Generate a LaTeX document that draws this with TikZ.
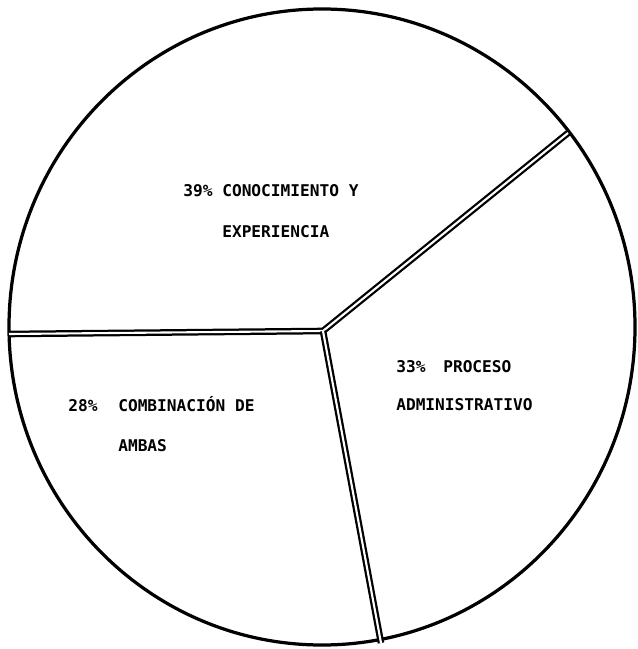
\documentclass[tikz,border=0pt]{standalone}
\usepackage{fontspec}
\newfontfamily\piefont{DejaVu Sans Mono}[Scale=1.0]
\usepackage{tikz}
\usetikzlibrary{calc}

\begin{document}
\begin{tikzpicture}[
    x=0.025cm, y=-0.025cm,
    % Define styles for consistency
    rim/.style={line width=2.3pt, black},
    spoke/.style={double=white, line width=1.6pt, double distance=1.5pt, black},
    slice_label/.style={font=\piefont\bfseries\fontsize{11.5}{14}\selectfont, inner sep=0pt, anchor=base west}
]
    \useasboundingbox (0, 0) rectangle (637, 649);

    % ---------------------------------------------------------
    % 1. The Circle
    % ---------------------------------------------------------
    \draw[rim] (322, 327) ellipse [x radius=313, y radius=318];

    % ---------------------------------------------------------
    % 2. The Spokes (double lines)
    % ---------------------------------------------------------
    \coordinate (centre) at (323, 331);
    \coordinate (endLeft) at (9, 334);
    \coordinate (endUpper) at (568, 133);
    \coordinate (endLower) at (381, 643);

    \draw[spoke] (endLeft) -- (centre) -- (endUpper);
    \draw[spoke] (centre) -- (endLower);

    % ---------------------------------------------------------
    % 3. Labels
    % ---------------------------------------------------------
    % --- 39% slice ---
    \node[slice_label] (pctA) at (183, 197) {39\%};
    \node[slice_label] (nameA) at (222, 197) {CONOCIMIENTO Y};
    \node[slice_label] (nameAb) at (222, 237) {EXPERIENCIA};

    % --- 33% slice ---
    \node[slice_label] (pctB) at (396, 372) {33\%};
    \node[slice_label] (nameB) at (443, 372) {PROCESO};
    \node[slice_label] (nameBb) at (396, 410) {ADMINISTRATIVO};

    % --- 28% slice ---
    \node[slice_label] (pctC) at (68, 411) {28\%};
    \node[slice_label] (nameC) at (118, 411) {COMBINACIÓN DE};
    \node[slice_label] (nameCb) at (118, 451) {AMBAS};
\end{tikzpicture}
\end{document}
